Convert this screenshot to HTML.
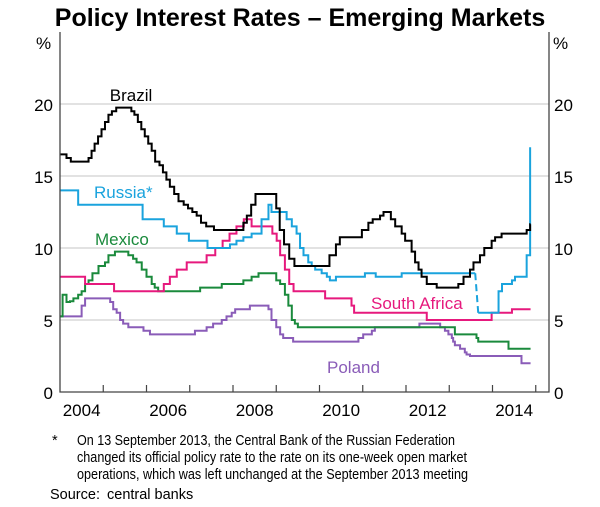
<!DOCTYPE html>
<html><head><meta charset="utf-8"><style>
html,body{margin:0;padding:0;background:#fff;}
svg{display:block;font-family:"Liberation Sans",Arial,sans-serif;}
</style></head><body>
<svg id="chart" width="600" height="507" viewBox="0 0 600 507">
<text x="300" y="26" text-anchor="middle" font-size="25" font-weight="bold" fill="#000">Policy Interest Rates – Emerging Markets</text>
<g id="grid"></g>
<g id="series"></g>
<g id="axes"></g>
<text x="131" y="101" text-anchor="middle" font-size="17" fill="#000">Brazil</text>
<text x="94" y="198" font-size="17" fill="#1aa3dd">Russia*</text>
<text x="95" y="245" font-size="17" fill="#1a8a3c">Mexico</text>
<text x="371" y="309" font-size="17" fill="#e6197d">South Africa</text>
<text x="327" y="373" font-size="17" fill="#8a5cb8">Poland</text>
<g font-size="14.5" fill="#000">
<text x="52" y="445">*</text>
<text x="77" y="445" textLength="378" lengthAdjust="spacingAndGlyphs">On 13 September 2013, the Central Bank of the Russian Federation</text>
<text x="77" y="462" textLength="390" lengthAdjust="spacingAndGlyphs">changed its official policy rate to the rate on its one-week open market</text>
<text x="77" y="479" textLength="391" lengthAdjust="spacingAndGlyphs">operations, which was left unchanged at the September 2013 meeting</text>
<text x="50" y="499">Source:</text>
<text x="107" y="499">central banks</text>
</g>
</svg>
<script>
const yTicks=[0,5,10,15,20];
const xLabels=[2004,2006,2008,2010,2012,2014];
const tEnd=2014.88;
const brazilT=[2004,2004.15,2004.25,2004.66,2004.73,2004.8,2004.88,2004.96,2005.04,2005.12,2005.2,2005.3,2005.65,2005.72,2005.8,2005.88,2005.96,2006.04,2006.12,2006.2,2006.3,2006.38,2006.46,2006.54,2006.64,2006.74,2006.86,2006.96,2007.06,2007.16,2007.26,2007.38,2007.56,2008.24,2008.32,2008.42,2008.52,2009.0,2009.08,2009.18,2009.3,2009.42,2010.23,2010.38,2010.47,2010.98,2011.13,2011.23,2011.4,2011.48,2011.65,2011.75,2011.9,2011.98,2012.13,2012.21,2012.29,2012.36,2012.48,2012.71,2013.21,2013.33,2013.48,2013.56,2013.71,2013.81,2013.98,2014.06,2014.21,2014.79,2014.87];
const brazilV=[16.5,16.25,16.0,16.25,16.75,17.25,17.75,18.25,18.75,19.25,19.5,19.75,19.5,19.25,18.75,18.25,17.75,17.25,16.75,16.0,15.75,15.25,14.75,14.25,13.75,13.25,13.0,12.75,12.5,12.25,11.75,11.5,11.25,11.75,12.25,13.0,13.75,12.75,11.25,10.25,9.25,8.75,9.5,10.25,10.75,11.25,11.75,12.0,12.25,12.5,12.0,11.5,11.0,10.5,9.75,9.0,8.5,8.0,7.5,7.25,7.5,8.0,8.5,9.0,9.5,10.0,10.5,10.75,11.0,11.25,11.65];
const russiaT=[2004,2004.42,2005.91,2006.4,2006.7,2006.98,2007.41,2007.93,2008.08,2008.24,2008.43,2008.66,2008.82,2008.89,2009.24,2009.36,2009.47,2009.55,2009.63,2009.74,2009.82,2009.9,2010.05,2010.17,2010.24,2010.38,2011.05,2011.3,2011.9,2012.59];
const russiaV=[14.0,13.0,12.0,11.5,11.0,10.5,10.0,10.25,10.5,10.75,11.0,12.0,13.0,12.5,12.0,11.5,11.0,10.0,9.5,9.0,8.75,8.5,8.25,8.0,7.75,8.0,8.25,8.0,8.25,8.25];
const russiaBreakT=2013.6;
const russia2T=[2013.67,2014.14,2014.22,2014.45,2014.52,2014.79,2014.87];
const russia2V=[5.5,7.0,7.5,7.75,8.0,9.5,17.0];
const safricaT=[2004,2004.58,2005.25,2006.4,2006.54,2006.7,2006.93,2007.39,2007.59,2007.76,2007.92,2008.08,2008.25,2008.43,2008.91,2009.01,2009.09,2009.2,2009.3,2009.4,2009.57,2010.13,2010.74,2010.8,2012.48,2013.98,2014.45];
const safricaV=[8.0,7.5,7.0,7.5,8.0,8.5,9.0,9.5,10.0,10.5,11.0,11.5,12.0,11.5,11.0,10.5,9.5,8.5,7.5,7.0,7.0,6.5,6.0,5.5,5.0,5.5,5.75];
const mexicoT=[2004,2004.06,2004.15,2004.23,2004.31,2004.42,2004.5,2004.58,2004.66,2004.75,2004.89,2005.04,2005.12,2005.27,2005.58,2005.69,2005.77,2005.89,2006.0,2006.12,2006.19,2006.27,2007.24,2007.74,2008.24,2008.43,2008.59,2009.0,2009.09,2009.2,2009.28,2009.36,2009.43,2009.5,2009.55,2013.13,2013.63,2013.67,2014.37];
const mexicoV=[5.25,6.75,6.25,6.3,6.5,6.75,7.0,7.5,7.75,8.25,8.75,9.0,9.5,9.75,9.5,9.25,9.0,8.5,8.0,7.5,7.25,7.0,7.25,7.5,7.75,8.0,8.25,7.75,7.5,6.75,6.0,5.0,4.75,4.5,4.5,4.0,3.75,3.5,3.0];
const polandT=[2004,2004.5,2004.58,2005.16,2005.23,2005.31,2005.39,2005.46,2005.58,2005.85,2005.93,2006.08,2007.12,2007.39,2007.54,2007.74,2007.85,2007.97,2008.05,2008.16,2008.39,2008.82,2008.89,2009.0,2009.09,2009.16,2009.39,2010.9,2011.01,2011.21,2011.28,2011.4,2012.31,2012.79,2012.9,2012.98,2013.06,2013.09,2013.13,2013.25,2013.36,2013.4,2013.48,2014.67];
const polandV=[5.25,6.0,6.5,6.25,5.75,5.5,5.0,4.75,4.5,4.5,4.25,4.0,4.25,4.5,4.75,5.0,5.25,5.5,5.75,5.75,6.0,5.75,5.0,4.5,4.0,3.75,3.5,3.75,4.0,4.25,4.5,4.5,4.75,4.5,4.25,4.0,3.75,3.5,3.25,3.0,2.75,2.6,2.5,2.0];

const X0=60,X1=549,Y0=392,YT=32;
function xs(t){return X0+(t-2004)*43.25;}
function ys(v){return Y0-v*14.4;}
const NS='http://www.w3.org/2000/svg';
function mk(tag,attrs,parent){const e=document.createElementNS(NS,tag);for(const k in attrs)e.setAttribute(k,attrs[k]);parent.appendChild(e);return e;}
const grid=document.getElementById('grid'),axes=document.getElementById('axes'),ser=document.getElementById('series');
yTicks.forEach(v=>{
  if(v>0){const g=mk('line',{x1:X0,x2:X1,y1:ys(v),y2:ys(v),stroke:'#d0d0d0','stroke-width':1.2},grid);
  
  }
  const l=mk('text',{x:53,y:ys(v)+7,'text-anchor':'end','font-size':17},axes);l.textContent=v;
  
  
  const r=mk('text',{x:554,y:ys(v)+7,'font-size':17},axes);r.textContent=v;
  
  
});
let p=mk('text',{x:36,y:49,'font-size':17},axes);p.textContent='%';


p=mk('text',{x:553,y:49,'font-size':17},axes);p.textContent='%';


const ax=mk('path',{d:`M${X0},${YT}V${Y0}H${X1}V${YT}`,fill:'none',stroke:'#444','stroke-width':1.3},axes);


for(let y=2005;y<=2015;y++){const t=mk('line',{x1:xs(y),x2:xs(y),y1:Y0,y2:Y0-7,stroke:'#444','stroke-width':1.2},axes);

}
xLabels.forEach(y=>{const l=mk('text',{x:xs(y+0.5),y:Y0+24,'text-anchor':'middle','font-size':17},axes);l.textContent=y;

});
function stepPath(T,V,end){let d=`M${xs(T[0])},${ys(V[0])}`;for(let i=1;i<T.length;i++){d+=`H${xs(T[i])}V${ys(V[i])}`;}d+=`H${xs(end)}`;return d;}
function draw(T,V,end,color,name){const e=mk('path',{d:stepPath(T,V,end),fill:'none',stroke:color,'stroke-width':2},ser);

}
draw(polandT,polandV,tEnd,'#8a5cb8','series-poland');
draw(mexicoT,mexicoV,tEnd,'#1a8a3c','series-mexico');
draw(safricaT,safricaV,tEnd,'#e6197d','series-south-africa');
draw(russiaT,russiaV,russiaBreakT,'#1aa3dd','series-russia-old');
draw(russia2T,russia2V,russia2T[russia2T.length-1],'#1aa3dd','series-russia-new');
const dc=mk('line',{x1:xs(russiaBreakT),y1:ys(russiaV[russiaV.length-1]),x2:xs(russia2T[0]),y2:ys(russia2V[0]),stroke:'#1aa3dd','stroke-width':2,'stroke-dasharray':'7,4'},ser);


draw(brazilT,brazilV,tEnd,'#000','series-brazil');
</script>
</body></html>
